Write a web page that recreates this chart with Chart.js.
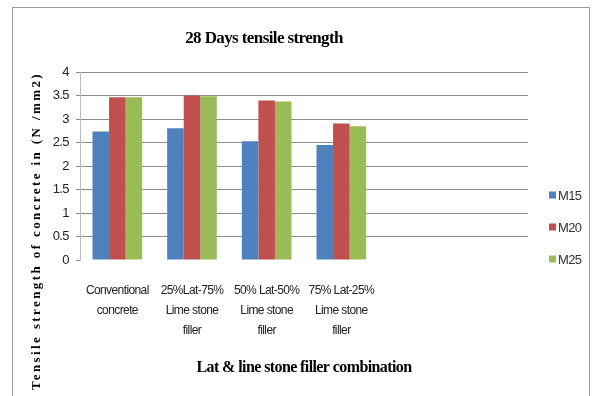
<!DOCTYPE html>
<html>
<head>
<meta charset="utf-8">
<script src="https://cdn.jsdelivr.net/npm/chart.js@4.4.0/dist/chart.umd.min.js"></script>
<style>
  html, body { margin: 0; padding: 0; background: #fff; }
  #wrap { position: relative; width: 595px; height: 396px; overflow: hidden; }
  #frame { position: absolute; left: 12px; top: 7px; width: 578px; height: 420px; border: 1px solid #9a9a9a; box-sizing: border-box; }
  canvas { position: absolute; left: 0; top: 0; }
</style>
</head>
<body>
<div id="wrap">
  <div id="frame"></div>
  <canvas id="c" width="595" height="396"></canvas>
</div>
<script>
// Mix categories (two trailing empty slots keep the plot's width)
const categories = [
  ["Conventional", "concrete"],
  ["25%Lat-75%", "Lime stone", "filler"],
  ["50% Lat-50%", "Lime stone", "filler"],
  ["75% Lat-25%", "Lime stone", "filler"],
  "",
  ""
];
const seriesNames = ["M15", "M20", "M25"];
const m15 = [2.74, 2.81, 2.53, 2.45, null, null];
const m20 = [3.47, 3.51, 3.40, 2.91, null, null];
const m25 = [3.47, 3.49, 3.38, 2.85, null, null];
const seriesColors = ["#4F81BD", "#C0504D", "#9BBB59"];
const yTicks = [0, 0.5, 1, 1.5, 2, 2.5, 3, 3.5, 4];

const chartTitle = "28 Days tensile strength";
const xTitle = "Lat & line stone filler combination";
const yTitle = "Tensile strength of concrete in (N /mm2)";

const sans = "'Liberation Sans', Arial, sans-serif";
const serif = "'Liberation Serif', 'Times New Roman', serif";

// Tighter letter spacing for all chart text (narrow, Calibri-like look)
const tightText = {
  id: 'tightText',
  beforeLayout(chart) { chart.ctx.letterSpacing = '-0.6px'; },
  beforeDraw(chart) { chart.ctx.letterSpacing = '-0.6px'; }
};

// Rotated y-axis caption and the right-hand legend
const extras = {
  id: 'extras',
  afterDraw(chart) {
    const ctx = chart.ctx;
    ctx.save();
    ctx.translate(37, 231);
    ctx.rotate(-Math.PI / 2);
    ctx.font = "bold 13px " + serif;
    ctx.letterSpacing = "2.4px";
    ctx.fillStyle = "#000";
    ctx.textAlign = "center";
    ctx.textBaseline = "middle";
    ctx.fillText(yTitle, 0, 0);
    ctx.restore();

    ctx.save();
    ctx.font = "13px " + sans;
    ctx.letterSpacing = "-0.6px";
    ctx.textBaseline = "middle";
    chart.data.datasets.forEach((ds, i) => {
      const y = 195 + i * 32;
      ctx.fillStyle = ds.backgroundColor;
      ctx.fillRect(549, y - 3.5, 7, 7);
      ctx.fillStyle = "#333";
      ctx.fillText(ds.label, 558, y + 1);
    });
    ctx.restore();
  }
};

new Chart(document.getElementById('c'), {
  type: 'bar',
  data: {
    labels: categories,
    datasets: seriesNames.map((name, i) => ({
      label: name,
      data: [m15, m20, m25][i],
      backgroundColor: seriesColors[i],
      borderWidth: 0,
      barPercentage: 1.0,
      categoryPercentage: 0.665
    }))
  },
  options: {
    responsive: false,
    animation: false,
    layout: { padding: { left: 0, right: 67, top: 0, bottom: 0 } },
    plugins: {
      legend: { display: false },
      tooltip: { enabled: false },
      title: {
        display: true,
        text: chartTitle,
        color: "#000",
        font: { family: serif, size: 17, weight: 'bold' },
        padding: { top: 28, bottom: 24 }
      }
    },
    scales: {
      x: {
        grid: { display: false, drawTicks: false },
        border: { display: false },
        ticks: {
          color: "#222",
          font: { family: sans, size: 12, lineHeight: 1.7 },
          padding: 20,
          maxRotation: 0,
          autoSkip: false
        },
        title: {
          display: true,
          text: xTitle,
          color: "#000",
          font: { family: serif, size: 16, weight: 'bold' },
          padding: { top: 0, bottom: 19 }
        },
        afterFit(scale) { scale.height = 136; }
      },
      y: {
        min: 0,
        max: 4,
        afterBuildTicks(scale) { scale.ticks = yTicks.map(v => ({ value: v })); },
        grid: {
          color: ctx => ctx.tick && ctx.tick.value === 0 ? 'rgba(0,0,0,0)' : '#8c8c8c',
          tickColor: '#8c8c8c',
          tickLength: 4,
          lineWidth: 1
        },
        border: { display: true, color: '#bdbdbd' },
        ticks: {
          color: "#222",
          font: { family: sans, size: 13 },
          padding: 7,
          callback: v => String(v)
        },
        afterFit(scale) { scale.width = 80; }
      }
    }
  },
  plugins: [tightText, extras]
});
</script>
</body>
</html>
